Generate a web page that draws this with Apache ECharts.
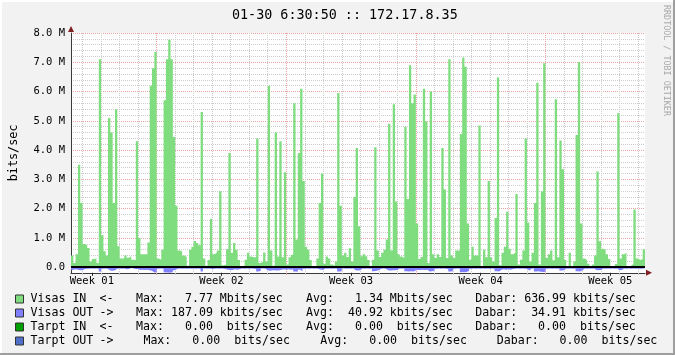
<!DOCTYPE html>
<html>
<head>
<meta charset="utf-8">
<script src="https://cdn.jsdelivr.net/npm/echarts@6/dist/echarts.min.js"></script>
<style>
html,body{margin:0;padding:0;background:#F2F2F2;}
#c{width:675px;height:355px;}
</style>
</head>
<body>
<div id="c"></div>
<script>
// ---------------- data ----------------
const titleText = '01-30 6:30:50 :: 172.17.8.35';
const yUnitName = 'bits/sec';
const watermarkText = 'RRDTOOL / TOBI OETIKER';

const stepHours = 3;          // one sample every 3 hours
const spanHours = 744;        // 31 days shown
const firstMidnightHour = 15; // first midnight after graph start
const firstMondayHour = 111;  // first Monday 00:00 after graph start

const weekLabels = ['Week 01', 'Week 02', 'Week 03', 'Week 04', 'Week 05'];
const yTickValues = [0, 1, 2, 3, 4, 5, 6, 7, 8];
const yTickLabels = ['0.0', '1.0 M', '2.0 M', '3.0 M', '4.0 M', '5.0 M', '6.0 M', '7.0 M', '8.0 M'];
const yMax = 8;
const yMin = -0.18709;

// Mbit/s
const visasIn = [
  0.4, 0.15, 0.45, 3.5, 2.2, 0.8, 0.75, 0.66, 0.2, 0.28,
  0.3, 0.15, 7.1, 1.1, 0.55, 0.4, 5.1, 4.6, 2.2, 5.4,
  0.72, 0.3, 0.3, 0.4, 0.33, 0.38, 0.26, 0.25, 4.3, 1.0,
  0.45, 0.45, 0.45, 0.85, 6.2, 6.8, 7.35, 0.3, 0.26, 0.6,
  5.7, 7.1, 7.77, 7.1, 4.45, 2.1, 0.57, 0.55, 0.4, 0.35,
  0.05, 0.6, 0.7, 0.9, 0.83, 0.75, 5.3, 0.3, 0.05, 0.25,
  1.65, 0.45, 0.5, 0.57, 2.6, 0.07, 0.1, 0.62, 3.9, 0.5,
  0.83, 0.6, 0.25, 0.03, 0.05, 0.26, 0.5, 0.37, 0.34, 0.34,
  4.4, 0.15, 0.2, 0.51, 0.2, 6.2, 0.57, 0.05, 4.6, 0.37,
  4.3, 0.34, 3.25, 0.1, 0.34, 0.43, 5.6, 0.95, 3.9, 6.1,
  2.95, 0.7, 0.6, 0.25, 0.02, 0.02, 0.3, 2.2, 3.2, 0.12,
  0.37, 0.3, 0.1, 0.05, 0.2, 5.95, 2.1, 0.4, 0.5, 0.35,
  0.65, 0.2, 2.4, 4.07, 1.4, 0.38, 0.45, 0.38, 0.25, 0.02,
  0.26, 4.1, 0.57, 0.35, 0.5, 0.6, 0.95, 4.9, 0.57, 5.57,
  2.25, 0.45, 0.37, 0.32, 4.8, 2.33, 6.9, 5.6, 5.9, 1.5,
  0.28, 0.35, 6.1, 4.98, 0.15, 6.0, 0.45, 0.32, 0.45, 0.35,
  4.07, 2.66, 0.32, 7.1, 0.4, 0.32, 0.57, 0.57, 4.55, 7.16,
  6.85, 1.5, 0.26, 0.7, 0.4, 0.4, 4.84, 0.01, 0.6, 0.34,
  2.95, 0.34, 0.2, 1.68, 6.48, 0.07, 0.5, 0.7, 1.9, 0.63,
  0.45, 0.5, 2.5, 0.1, 0.26, 0.57, 4.4, 1.53, 0.2, 0.5,
  2.2, 6.3, 0.1, 2.6, 6.97, 0.32, 0.45, 0.57, 0.24, 5.74,
  0.34, 4.33, 3.35, 0.25, 0.02, 0.5, 0.01, 0.2, 4.52, 7.0,
  1.5, 0.3, 0.24, 0.12, 0.0, 0.1, 0.4, 3.27, 0.89, 0.63,
  0.6, 0.45, 0.28, 0.0, 0.0, 0.11, 5.26, 0.3, 0.45, 0.5,
  0.0, 0.05, 0.11, 1.97, 0.3, 0.25, 0.28, 0.62
];

// Mbit/s (drawn below zero)
const visasOut = [
  0.08, 0.07, 0.08, 0.1, 0.1, 0.06, 0.05, 0.05, 0.04, 0.05,
  0.04, 0.05, 0.14, 0.05, 0.04, 0.06, 0.11, 0.12, 0.1, 0.05,
  0.04, 0.05, 0.04, 0.07, 0.06, 0.02, 0.04, 0.06, 0.06, 0.09,
  0.08, 0.09, 0.08, 0.1, 0.12, 0.18, 0.18, 0.05, 0.04, 0.05,
  0.18, 0.187, 0.185, 0.17, 0.1, 0.05, 0.04, 0.05, 0.04, 0.05,
  0.04, 0.05, 0.04, 0.05, 0.04, 0.06, 0.14, 0.04, 0.05, 0.04,
  0.06, 0.05, 0.04, 0.05, 0.04, 0.05, 0.07, 0.08, 0.1, 0.08,
  0.07, 0.08, 0.06, 0.04, 0.05, 0.04, 0.05, 0.04, 0.05, 0.06,
  0.14, 0.12, 0.04, 0.05, 0.1, 0.12, 0.1, 0.1, 0.11, 0.1,
  0.08, 0.07, 0.08, 0.07, 0.08, 0.07, 0.14, 0.15, 0.08, 0.14,
  0.05, 0.04, 0.05, 0.04, 0.05, 0.04, 0.06, 0.08, 0.08, 0.04,
  0.05, 0.04, 0.05, 0.04, 0.05, 0.14, 0.13, 0.04, 0.05, 0.04,
  0.05, 0.04, 0.1, 0.11, 0.1, 0.04, 0.05, 0.04, 0.05, 0.04,
  0.13, 0.12, 0.1, 0.05, 0.04, 0.05, 0.1, 0.11, 0.1, 0.1,
  0.09, 0.04, 0.05, 0.04, 0.13, 0.14, 0.13, 0.14, 0.1, 0.09,
  0.09, 0.08, 0.09, 0.08, 0.14, 0.13, 0.12, 0.05, 0.04, 0.05,
  0.04, 0.05, 0.06, 0.14, 0.13, 0.05, 0.04, 0.05, 0.17, 0.17,
  0.16, 0.12, 0.05, 0.04, 0.05, 0.04, 0.05, 0.04, 0.05, 0.04,
  0.05, 0.04, 0.05, 0.13, 0.14, 0.08, 0.07, 0.08, 0.07, 0.08,
  0.06, 0.05, 0.04, 0.05, 0.04, 0.05, 0.05, 0.11, 0.05, 0.04,
  0.14, 0.13, 0.15, 0.16, 0.15, 0.05, 0.04, 0.05, 0.04, 0.05,
  0.04, 0.11, 0.1, 0.04, 0.05, 0.04, 0.05, 0.04, 0.13, 0.14,
  0.1, 0.04, 0.05, 0.04, 0.05, 0.04, 0.09, 0.1, 0.09, 0.04,
  0.05, 0.04, 0.05, 0.04, 0.05, 0.04, 0.1, 0.09, 0.04, 0.05,
  0.04, 0.05, 0.04, 0.05, 0.04, 0.05, 0.04, 0.05
];

const tarptIn = [];
const tarptOut = [];

const legendNames = ['Visas IN', 'Visas OUT', 'Tarpt IN', 'Tarpt OUT'];
const legendDirs = ['<-', '->', '<-', '->'];
const legendMax = ['  7.77 Mbits/sec', '187.09 kbits/sec', '  0.00  bits/sec', '  0.00  bits/sec'];
const legendAvg = ['  1.34 Mbits/sec', ' 40.92 kbits/sec', '  0.00  bits/sec', '  0.00  bits/sec'];
const legendLast = ['636.99 kbits/sec', ' 34.91 kbits/sec', '  0.00  bits/sec', '  0.00  bits/sec'];
const seriesColors = ['#7FDD7F', '#7F7FFF', '#00A000', '#4F6FC8'];

// ---------------- build ----------------
const MONO = "'DejaVu Sans Mono', monospace";
const GRID = { left: 67, right: 30, top: 33, bottom: 82.2 };
const plotHeight = 355 - GRID.top - GRID.bottom;
// the 2px zero rule sits just above the zero level (so the outbound area stays visible)
const zeroRuleValue = (yMax - yMin) / plotHeight;

function toSteps(arr, sign) {
  const d = arr.map((v, i) => [i * stepHours, sign * v]);
  if (arr.length) d.push([arr.length * stepHours, sign * arr[arr.length - 1]]);
  return d;
}

const dayTicks = [];
for (let h = firstMidnightHour; h <= spanHours; h += 24) dayTicks.push(h);
const weekTicks = [];
for (let h = firstMondayHour; h <= spanHours; h += 168) weekTicks.push(h);
const weekMids = [];
for (let k = 0; k < weekLabels.length; k++) weekMids.push(firstMondayHour - 84 + 168 * k);

const minorY = [];
for (let v = 1; v < yMax * 5; v++) if (v % 5 !== 0) minorY.push(v / 5);

const baseX = {
  type: 'value', min: 0, max: spanHours, gridIndex: 0, position: 'bottom', offset: 0,
  axisLine: { show: false, onZero: false },
  axisTick: { show: false },
  axisLabel: { show: false },
  splitLine: { show: false }
};
const baseY = {
  type: 'value', min: yMin, max: yMax, gridIndex: 0, position: 'left', offset: 0,
  axisLine: { show: false, onZero: false },
  axisTick: { show: false },
  axisLabel: { show: false },
  splitLine: { show: false }
};

function areaSeries(name, arr, sign, color, extra) {
  return Object.assign({
    name: name, type: 'line', step: 'end',
    xAxisIndex: 0, yAxisIndex: 0,
    data: toSteps(arr, sign),
    symbol: 'none', showSymbol: false,
    lineStyle: { width: 0, color: color },
    itemStyle: { color: color },
    areaStyle: { color: color, opacity: 1 },
    silent: true, animation: false
  }, extra || {});
}

const option = {
  animation: false,
  backgroundColor: '#F2F2F2',
  color: seriesColors,
  title: {
    text: titleText, left: 227, top: 4,
    textStyle: { fontFamily: MONO, fontSize: 13.4, fontWeight: 'normal', color: '#000' }
  },
  grid: {
    left: GRID.left, right: GRID.right, top: GRID.top, bottom: GRID.bottom,
    show: true, backgroundColor: '#FFFFFF', borderWidth: 0
  },
  legend: {
    show: true, orient: 'vertical', left: 15, top: 292, padding: 0,
    height: 60, width: 660,
    itemWidth: 8, itemHeight: 8, itemGap: 0, icon: 'rect',
    selectedMode: false,
    data: legendNames,
    itemStyle: { borderColor: '#333', borderWidth: 1 },
    textStyle: {
      fontFamily: MONO, fontSize: 11.6, color: '#000', lineHeight: 14,
      rich: {
        n: { width: 69, padding: [0, 0, 0, 2], fontFamily: MONO, fontSize: 11.6, lineHeight: 14 },
        pd: { width: 36.6, fontFamily: MONO, fontSize: 11.6, lineHeight: 14 },
        pm: { width: 170, fontFamily: MONO, fontSize: 11.6, lineHeight: 14 },
        pa: { width: 169.2, fontFamily: MONO, fontSize: 11.6, lineHeight: 14 },
        qd: { width: 43.9, fontFamily: MONO, fontSize: 11.6, lineHeight: 14 },
        qm: { width: 176.9, fontFamily: MONO, fontSize: 11.6, lineHeight: 14 },
        qa: { width: 176.5, fontFamily: MONO, fontSize: 11.6, lineHeight: 14 },
        z: { fontFamily: MONO, fontSize: 11.6, lineHeight: 14 }
      }
    },
    formatter: function (name) {
      const i = legendNames.indexOf(name);
      const r = i === 3 ? 'q' : 'p';
      return '{n|' + name + '}{' + r + 'd|' + legendDirs[i] + '}{' + r + 'm|Max: ' + legendMax[i] +
        '}{' + r + 'a|Avg: ' + legendAvg[i] + '}{z|Dabar: ' + legendLast[i] + '}';
    }
  },
  xAxis: [
    Object.assign({}, baseX, {
      axisTick: { show: true, customValues: dayTicks, length: 2, lineStyle: { color: '#BDBDBD' } },
      splitLine: { show: true, lineStyle: { color: '#CDCDCD', width: 1, type: [1, 1] } }
    }),
    Object.assign({}, baseX, {
      axisTick: { show: true, customValues: weekTicks, length: 2, lineStyle: { color: '#E89A9A' } },
      splitLine: { show: true, lineStyle: { color: '#EBA3A3', width: 1, type: [1, 1] } }
    }),
    Object.assign({}, baseX, {
      axisLine: { show: true, onZero: false, lineStyle: { color: '#3A3A3A', width: 1 } },
      axisTick: { show: true, customValues: weekMids, length: 3, lineStyle: { color: '#1F1F1F' } },
      axisLabel: {
        show: true, customValues: weekMids, margin: 3,
        fontFamily: MONO, fontSize: 10.5, color: '#000',
        formatter: function (v) { return weekLabels[Math.round((v - weekMids[0]) / 168)]; }
      }
    }),
    Object.assign({}, baseX, {
      axisLine: {
        show: true, onZero: false, lineStyle: { color: '#801F1F', width: 0 },
        symbol: ['none', 'triangle'], symbolSize: [6, 6], symbolOffset: [0, 4]
      }
    })
  ],
  yAxis: [
    Object.assign({}, baseY, {
      name: yUnitName, nameLocation: 'middle', nameRotate: 90, nameGap: 51,
      nameTextStyle: { fontFamily: MONO, fontSize: 11.8, color: '#000' },
      axisLine: { show: true, onZero: false, lineStyle: { color: '#3A3A3A', width: 1 } },
      axisTick: { show: false, customValues: yTickValues },
      axisLabel: {
        show: true, customValues: yTickValues, margin: 6,
        fontFamily: MONO, fontSize: 10.5, color: '#000',
        formatter: function (v) { return yTickLabels[yTickValues.indexOf(Math.round(v))]; }
      },
      splitLine: { show: true, lineStyle: { color: '#EBA3A3', width: 1, type: [1, 1] } }
    }),
    Object.assign({}, baseY, {
      axisTick: { show: false, customValues: minorY },
      splitLine: { show: true, lineStyle: { color: '#CDCDCD', width: 1, type: [1, 1] } }
    }),
    Object.assign({}, baseY, {
      axisLine: {
        show: true, onZero: false, lineStyle: { color: '#801F1F', width: 0 },
        symbol: ['none', 'triangle'], symbolSize: [6, 6], symbolOffset: [0, 4]
      }
    })
  ],
  series: [
    areaSeries(legendNames[0], visasIn, 1, seriesColors[0], {
      markLine: {
        silent: true, symbol: ['none', 'none'], label: { show: false },
        lineStyle: { color: '#000', width: 2, type: 'solid' },
        data: [{ yAxis: zeroRuleValue }], animation: false
      }
    }),
    areaSeries(legendNames[1], visasOut, -1, seriesColors[1]),
    areaSeries(legendNames[2], tarptIn, 1, seriesColors[2]),
    areaSeries(legendNames[3], tarptOut, -1, seriesColors[3])
  ],
  graphic: [
    { type: 'rect', silent: true, shape: { x: 0, y: 0, width: 675, height: 2 }, style: { fill: '#FFFFFF' } },
    { type: 'rect', silent: true, shape: { x: 0, y: 0, width: 2, height: 355 }, style: { fill: '#FFFFFF' } },
    { type: 'rect', silent: true, shape: { x: 673, y: 0, width: 2, height: 355 }, style: { fill: '#9E9E9E' } },
    { type: 'rect', silent: true, shape: { x: 0, y: 353, width: 675, height: 2 }, style: { fill: '#9E9E9E' } },
    {
      type: 'text', silent: true, x: 666, y: 5, rotation: -Math.PI / 2,
      style: { text: watermarkText, font: "8.4px 'DejaVu Sans Mono'", fill: '#A8A8A8', align: 'left', verticalAlign: 'middle' }
    }
  ]
};

const chart = echarts.init(document.getElementById('c'), null, { renderer: 'canvas' });
chart.setOption(option);
</script>
</body>
</html>
